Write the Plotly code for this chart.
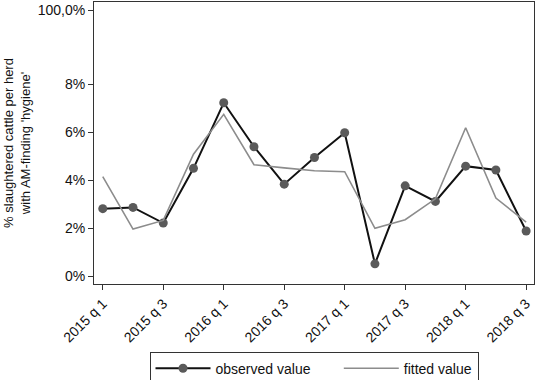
import plotly.graph_objects as go

quarters = ["2015 q 1", "2015 q 2", "2015 q 3", "2015 q 4",
            "2016 q 1", "2016 q 2", "2016 q 3", "2016 q 4",
            "2017 q 1", "2017 q 2", "2017 q 3", "2017 q 4",
            "2018 q 1", "2018 q 2", "2018 q 3"]
observed = [2.81, 2.86, 2.21, 4.49, 7.22, 5.39, 3.83, 4.94, 5.97, 0.51, 3.76, 3.11, 4.58, 4.42, 1.88]
fitted = [4.14, 1.96, 2.32, 5.08, 6.74, 4.64, 4.51, 4.39, 4.35, 1.99, 2.35, 3.22, 6.18, 3.25, 2.25]
x_tick_labels = ["2015 q 1", "2015 q 3", "2016 q 1", "2016 q 3", "2017 q 1", "2017 q 3", "2018 q 1", "2018 q 3"]
y_tick_vals = [0, 2, 4, 6, 8, 11.08]
y_tick_text = ["0%", "2%", "4%", "6%", "8%", "100,0%"]

FONT = "Liberation Sans, Arial, sans-serif"

fig = go.Figure()
fig.add_trace(go.Scatter(
    x=quarters, y=observed, name="observed value" + "\u00a0" * 6, mode="lines+markers",
    line=dict(color="#111111", width=2),
    marker=dict(color="#5a5a5a", size=9, line=dict(width=0)),
))
fig.add_trace(go.Scatter(
    x=quarters, y=fitted, name="fitted value", mode="lines",
    line=dict(color="#8c8c8c", width=1.6),
))

fig.update_layout(
    width=536, height=380,
    margin=dict(l=94, r=2, t=2, b=96, autoexpand=False),
    paper_bgcolor="white", plot_bgcolor="white",
    font=dict(family=FONT, size=14, color="#111111"),
    showlegend=True,
    legend=dict(orientation="h", x=0.5, xanchor="center", y=-0.24, yanchor="top",
                bordercolor="#333333", borderwidth=1, bgcolor="white",
                font=dict(size=14), itemwidth=55),
    xaxis=dict(
        type="category", categoryorder="array", categoryarray=quarters,
        range=[-0.29, 14.26], automargin=False,
        tickmode="array", tickvals=x_tick_labels, ticktext=x_tick_labels,
        tickangle=-45, ticks="outside", ticklen=5, tickcolor="#333333",
        showline=True, linecolor="#333333", linewidth=1, mirror=True,
        showgrid=False, zeroline=False,
        tickfont=dict(size=14),
    ),
    yaxis=dict(
        range=[-0.33, 11.42], automargin=True,
        tickmode="array", tickvals=y_tick_vals, ticktext=y_tick_text,
        ticks="outside", ticklen=5, tickcolor="#333333",
        showline=True, linecolor="#333333", linewidth=1, mirror=True,
        showgrid=False, zeroline=False,
        tickfont=dict(size=14),
        title=dict(text="% slaughtered cattle per herd<br>with AM-finding 'hygiene'",
                   font=dict(size=13), standoff=4),
    ),
)

fig.write_html("out.html", config={"displayModeBar": False},
               post_script="document.body.style.margin='0';document.body.style.overflow='hidden';")
